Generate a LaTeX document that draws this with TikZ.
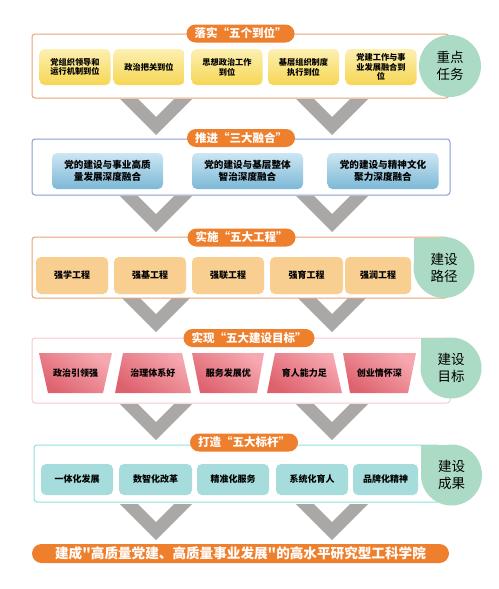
\documentclass[tikz,border=0pt]{standalone}
\usepackage{fontspec}
\newfontfamily\cjk{Noto Sans CJK SC}

\tikzset{
    panel/.style={draw=#1, line width=1pt, fill=white, rounded corners=3pt},
    pill/.style={fill=titleorange, text=white, rounded corners=9pt, minimum height=18pt,
        inner xsep=8pt, inner ysep=0pt, font=\cjk\bfseries\fontsize{11.5}{12}\selectfont},
    taskbox/.style={rounded corners=5pt, align=center, minimum height=36pt, inner sep=0pt,
        text=black, font=\cjk\bfseries\fontsize{8.2}{9.8}\selectfont},
    badgetext/.style={align=center, text=black, font=\cjk\fontsize{13.5}{17}\selectfont},
    endbar/.style={fill=titleorange, text=white, rounded corners=9.5pt, minimum height=19pt,
        minimum width=417pt, inner sep=0pt, font=\cjk\bfseries\fontsize{13.6}{14}\selectfont}
}

\begin{document}
\begin{tikzpicture}[x=1pt, y=-1pt, line join=round]

    % --- Colors ---
    \definecolor{titleorange}{RGB}{238, 127, 45}
    \definecolor{frameorange}{RGB}{232, 162, 116}
    \definecolor{frameblue}{RGB}{138, 154, 212}
    \definecolor{framepink}{RGB}{248, 202, 207}
    \definecolor{framecyan}{RGB}{142, 226, 220}
    \definecolor{badgegreen}{RGB}{171, 219, 196}
    \definecolor{chevgray}{RGB}{170, 167, 167}
    \definecolor{yellowtop}{RGB}{252, 240, 178}
    \definecolor{yellowbot}{RGB}{246, 214, 84}
    \definecolor{bluetop}{RGB}{204, 230, 243}
    \definecolor{bluebot}{RGB}{124, 184, 214}
    \definecolor{tanbox}{RGB}{248, 206, 145}
    \definecolor{pinklight}{RGB}{246, 168, 176}
    \definecolor{pinkdark}{RGB}{222, 98, 110}
    \definecolor{tealbox}{RGB}{166, 220, 220}

    \useasboundingbox (0,0) rectangle (498,589);

    % --- 1. Chevrons (underneath the panels) ---
    \foreach \y in {135, 232, 332, 440, 540} {
        \foreach \x in {156, 332} {
            \fill[chevgray] (\x-36,\y-36) -- (\x,\y) -- (\x+36,\y-36)
                -- (\x+18,\y-36) -- (\x,\y-18) -- (\x-18,\y-36) -- cycle;
        }
    }

    % --- 2. Panel frames ---
    \draw[panel=frameorange] (32,34) rectangle (449,98);
    \draw[panel=frameblue]   (32,139) rectangle (450,195);
    \draw[panel=frameorange] (32,237) rectangle (448,298);
    \draw[panel=framepink]   (32,338) rectangle (450,403);
    \draw[panel=framecyan]   (34,445) rectangle (440,502);

    % --- 3. Boxes ---
    % five positions
    \foreach \x/\t [count=\i] in {
        75/{党组织领导和\\运行机制到位}, 149/{政治把关到位}, 227/{思想政治工作\\到位},
        303.5/{基层组织制度\\执行到位}, 381/{党建工作与事\\业发展融合到\\位}%
    } {%
        \node[taskbox, minimum width=71pt, top color=yellowtop, bottom color=yellowbot]
            (pos\i) at (\x,67) {\t};%
    }

    % three integrations
    \foreach \x/\t [count=\i] in {
        107.5/{党的建设与事业高质\\量发展深度融合}, 247.5/{党的建设与基层整体\\智治深度融合},
        383/{党的建设与精神文化\\聚力深度融合}%
    } {%
        \node[taskbox, minimum width=111pt, top color=bluetop, bottom color=bluebot,
            font=\cjk\bfseries\fontsize{9.6}{12}\selectfont] (mix\i) at (\x,171) {\t};%
    }

    % five projects
    \foreach \x/\w/\t [count=\i] in {
        72/72/强学工程, 150/72/强基工程, 228/72/强联工程, 306.5/73/强育工程, 378/66/强润工程%
    } {%
        \node[taskbox, minimum width=\w pt, minimum height=37pt, fill=tanbox,
            font=\cjk\bfseries\fontsize{9}{10}\selectfont] (prj\i) at (\x,275.5) {\t};%
    }

    % five goals (trapezoids)
    \foreach \a/\b/\c/\d/\t [count=\i] in {
        39/112/48/103/政治引领强, 123/182/115/191/治理体系好, 192/264/200/257/服务发展优,
        275/333/267/342/育人能力足, 343/416/350/408/创业情怀深%
    } {%
        \shade[top color=pinklight, bottom color=pinkdark, shading angle=-35]
            (\a,353) -- (\b,353) -- (\d,393) -- (\c,393) -- cycle;
        \node[taskbox, font=\cjk\bfseries\fontsize{9}{10}\selectfont]
            (goal\i) at ({(\a+\b+\c+\d)/4},373) {\t};%
    }

    % five benchmarks
    \foreach \x/\w/\t [count=\i] in {
        77/72/一体化发展, 155.5/73/数智化改革, 233/72/精准化服务, 312/72/系统化育人, 385.5/65/品牌化精神%
    } {%
        \node[taskbox, minimum width=\w pt, minimum height=31pt, fill=tealbox,
            font=\cjk\bfseries\fontsize{9}{10}\selectfont] (mark\i) at (\x,479.5) {\t};%
    }

    % --- 4. Badges ---
    \fill[badgegreen] (450,66) circle[radius=31pt];
    \node[badgetext] (badge1) at (450,66) {重点\\任务};

    \foreach \x/\y/\t [count=\i from 2] in {
        444/267.5/{建设\\路径}, 451/368/{建设\\目标}, 451.5/475/{建设\\成果}%
    } {%
        \fill[badgegreen] (\x,\y) circle[radius=30.5pt];
        \fill[badgegreen] (\x-30.5,\y-30) rectangle (\x,\y);
        \node[badgetext] (badge\i) at (\x,\y) {\t};%
    }

    % --- 5. Titles ---
    \node[pill] (title1) at (240.5,33.5) {落实“五个到位”};
    \node[pill] (title2) at (241,138) {推进“三大融合”};
    \node[pill] (title3) at (241.5,237.5) {实施“五大工程”};
    \node[pill] (title4) at (249,338) {实现“五大建设目标”};
    \node[pill] (title5) at (244,442.5) {打造“五大标杆”};

    % --- 6. Final goal ---
    \node[endbar] (final) at (240.5,553.5) {建成"高质量党建、高质量事业发展"的高水平研究型工科学院};

\end{tikzpicture}
\end{document}
